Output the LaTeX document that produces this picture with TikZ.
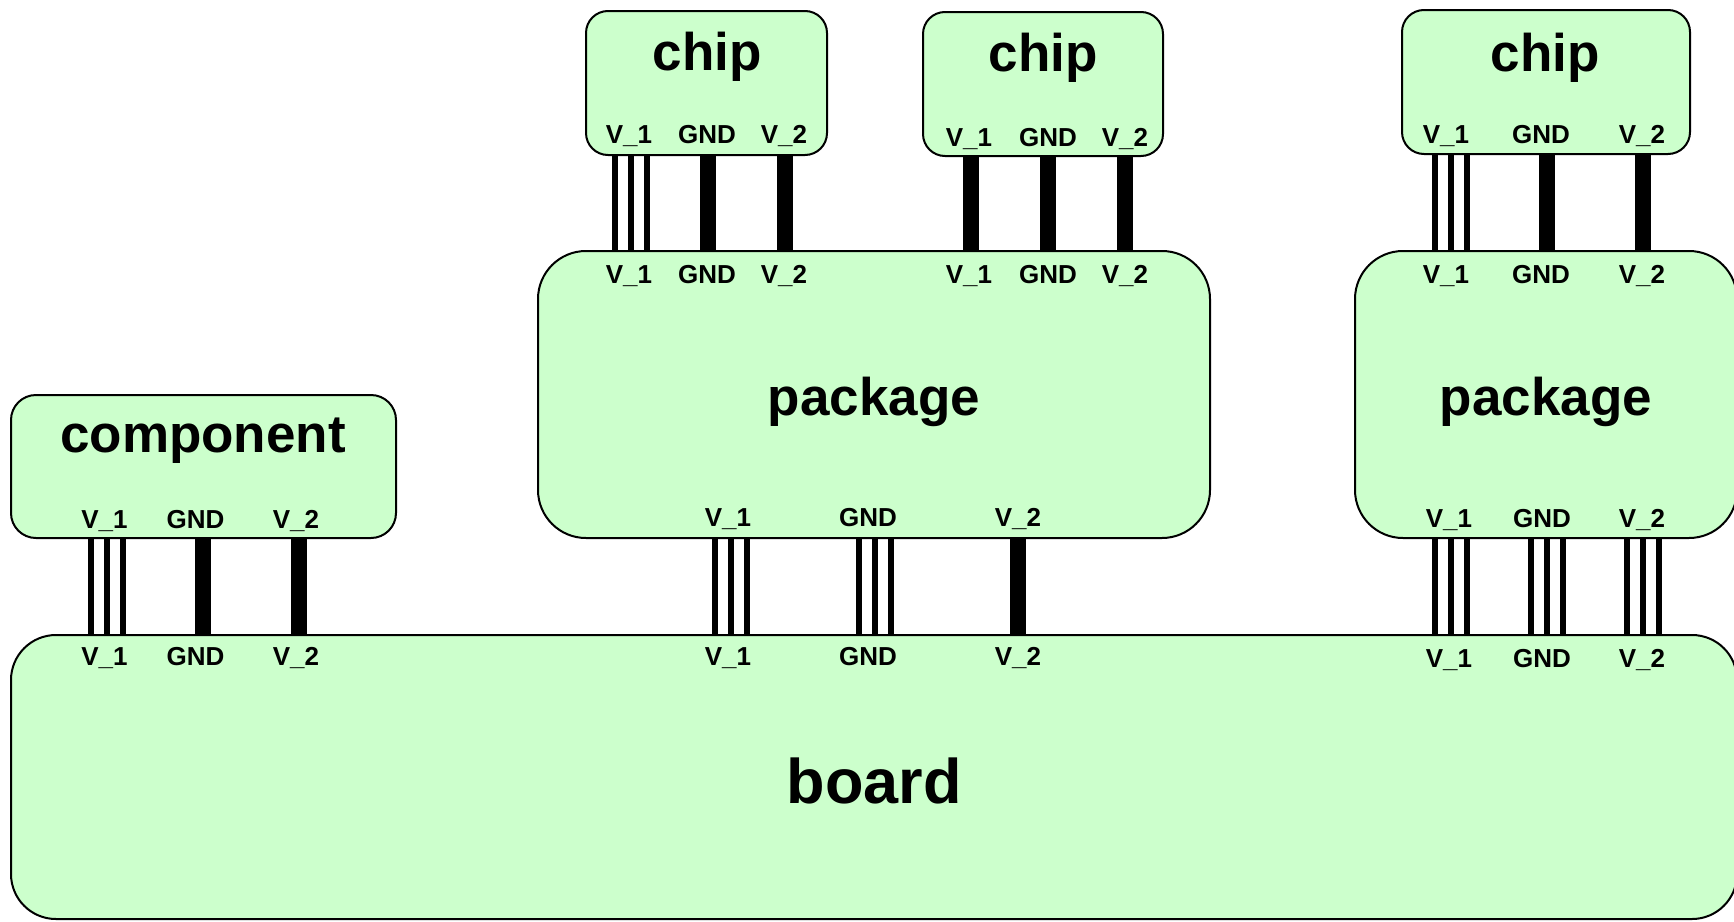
\documentclass[tikz,border=0pt]{standalone}
\usepackage{fontspec}
\setmainfont{Liberation Sans}
\definecolor{boxgreen}{RGB}{204,255,204}
\tikzset{
  box/.style={draw=black, line width=1pt, fill=boxgreen, rectangle, inner sep=0pt, outer sep=0pt, anchor=north west},
  chipbox/.style={box, rounded corners=11pt, minimum height=72pt},
  pkgbox/.style={box, rounded corners=24pt, minimum height=143.5pt},
  title/.style={font=\bfseries\fontsize{26.5}{30}\selectfont, anchor=base, inner sep=0pt},
  bigtitle/.style={font=\bfseries\fontsize{31.5}{35}\selectfont, anchor=base, inner sep=0pt},
  pin/.style={font=\bfseries\fontsize{13}{15}\selectfont, anchor=base, inner sep=0pt},
  thinwire/.style={line width=3pt, line cap=butt},
  thickwire/.style={line width=8pt, line cap=butt}
}
\newcommand\wireset[4]{%
  \foreach \xx in {#4} {\draw[#1] (\xx,0 |- #2.south) -- (\xx,0 |- #3.north);}}
\begin{document}
\begin{tikzpicture}[x=0.5pt, y=-0.5pt]
\useasboundingbox (0,0) rectangle (1734,921);
% boxes
\node[box, rounded corners=22.5pt, minimum width=863pt, minimum height=142pt] (board) at (11,635) {};
\node[pkgbox, minimum width=336pt] (pkgA) at (538,251) {};
\node[pkgbox, minimum width=191pt] (pkgB) at (1355,251) {};
\node[box, rounded corners=12.5pt, minimum width=192.5pt, minimum height=71.5pt] (comp) at (11,395) {};
\node[chipbox, minimum width=120.5pt] (chipA) at (586,11) {};
\node[chipbox, minimum width=120pt] (chipB) at (923,12) {};
\node[chipbox, minimum width=144pt] (chipC) at (1402,10) {};
% titles
\node[title] (tchipA) at (707,70) {chip};
\node[title] (tchipB) at (1043,71) {chip};
\node[title] (tchipC) at (1545,71) {chip};
\node[title] (tpkgA) at (874,415) {package};
\node[title] (tpkgB) at (1546,415) {package};
\node[title] (tcomp) at (203,452) {component};
\node[bigtitle] (tboard) at (874,803) {board};
% wires chip -> package
\wireset{thinwire}{chipA}{pkgA}{615,631,647}
\wireset{thickwire}{chipA}{pkgA}{708,784.5}
\wireset{thickwire}{chipB}{pkgA}{971,1048,1125}
\wireset{thinwire}{chipC}{pkgB}{1435,1451,1467}
\wireset{thickwire}{chipC}{pkgB}{1547,1643}
% wires package/component -> board
\wireset{thinwire}{pkgA}{board}{714.5,731,747,859,875,891}
\wireset{thickwire}{pkgA}{board}{1018}
\wireset{thinwire}{pkgB}{board}{1435,1451,1467,1531,1547,1563,1627,1643,1659}
\wireset{thinwire}{comp}{board}{90.5,106.5,122.5}
\wireset{thickwire}{comp}{board}{203,299}
% pin labels: chip A
\node[pin] (cAv1) at (629,143) {V\_1};
\node[pin] (cAg) at (707,143) {GND};
\node[pin] (cAv2) at (784,143) {V\_2};
% chip B
\node[pin] (cBv1) at (969,146) {V\_1};
\node[pin] (cBg) at (1048,146) {GND};
\node[pin] (cBv2) at (1125,146) {V\_2};
% chip C
\node[pin] (cCv1) at (1446,143) {V\_1};
\node[pin] (cCg) at (1541,143) {GND};
\node[pin] (cCv2) at (1642,143) {V\_2};
% package A top
\node[pin] (pAt1) at (629,283) {V\_1};
\node[pin] (pAt2) at (707,283) {GND};
\node[pin] (pAt3) at (784,283) {V\_2};
\node[pin] (pAt4) at (969,283) {V\_1};
\node[pin] (pAt5) at (1048,283) {GND};
\node[pin] (pAt6) at (1125,283) {V\_2};
% package A bottom
\node[pin] (pAb1) at (728,526) {V\_1};
\node[pin] (pAb2) at (868,526) {GND};
\node[pin] (pAb3) at (1018,526) {V\_2};
% package B top
\node[pin] (pBt1) at (1446,283) {V\_1};
\node[pin] (pBt2) at (1541,283) {GND};
\node[pin] (pBt3) at (1642,283) {V\_2};
% package B bottom
\node[pin] (pBb1) at (1449,527) {V\_1};
\node[pin] (pBb2) at (1542,527) {GND};
\node[pin] (pBb3) at (1642,527) {V\_2};
% component
\node[pin] (co1) at (104.5,528) {V\_1};
\node[pin] (co2) at (195.5,528) {GND};
\node[pin] (co3) at (296,528) {V\_2};
% board
\node[pin] (b1) at (104.5,665) {V\_1};
\node[pin] (b2) at (195.5,665) {GND};
\node[pin] (b3) at (296,665) {V\_2};
\node[pin] (b4) at (728,665) {V\_1};
\node[pin] (b5) at (868,665) {GND};
\node[pin] (b6) at (1018,665) {V\_2};
\node[pin] (b7) at (1449,667) {V\_1};
\node[pin] (b8) at (1542,667) {GND};
\node[pin] (b9) at (1642,667) {V\_2};
\end{tikzpicture}
\end{document}
